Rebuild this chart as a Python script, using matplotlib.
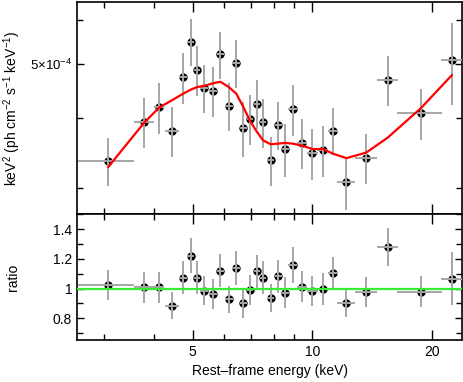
import numpy as np
import matplotlib.pyplot as plt
from matplotlib.ticker import FixedLocator, FixedFormatter, NullFormatter

plt.rcParams['font.family'] = ['Liberation Sans', 'DejaVu Sans']
plt.rcParams['mathtext.default'] = 'regular'

# spectrum bins (keV), half widths
energy = [3.07, 3.78, 4.12, 4.44, 4.74, 4.94, 5.13, 5.34, 5.61, 5.87,
          6.16, 6.43, 6.70, 6.96, 7.25, 7.51, 7.85, 8.20, 8.54, 8.91,
          9.40, 10.0, 10.61, 11.29, 12.17, 13.66, 15.45, 18.73, 22.40]
energy_err = [0.50, 0.22, 0.12, 0.19, 0.11, 0.09, 0.10, 0.12, 0.13, 0.13,
              0.14, 0.14, 0.13, 0.13, 0.14, 0.14, 0.17, 0.17, 0.17, 0.21,
              0.27, 0.30, 0.32, 0.33, 0.62, 0.86, 0.91, 2.38, 1.33]

# E^2 F(E) in units of 1e-4
flux = [3.35, 3.94, 4.19, 3.80, 4.74, 5.49, 4.89, 4.53, 4.48, 5.21,
        4.21, 5.03, 3.84, 3.99, 4.25, 3.93, 3.36, 3.89, 3.52, 4.15,
        3.61, 3.46, 3.50, 3.80, 3.07, 3.39, 4.69, 4.08, 5.08]
flux_err = [0.33, 0.40, 0.44, 0.39, 0.49, 0.53, 0.51, 0.45, 0.46, 0.51,
            0.41, 0.50, 0.43, 0.41, 0.43, 0.40, 0.34, 0.39, 0.38, 0.44,
            0.37, 0.36, 0.37, 0.37, 0.33, 0.35, 0.48, 0.43, 0.85]

model = [3.27, 3.93, 4.18, 4.31, 4.43, 4.50, 4.55, 4.57, 4.62, 4.65,
         4.55, 4.43, 4.19, 3.96, 3.78, 3.65, 3.59, 3.60, 3.61, 3.60,
         3.57, 3.52, 3.52, 3.45, 3.39, 3.47, 3.69, 4.17, 4.78]

ratio = [1.025, 1.007, 1.007, 0.883, 1.072, 1.22, 1.072, 0.985, 0.962, 1.121,
         0.929, 1.139, 0.90, 0.99, 1.115, 1.074, 0.935, 1.081, 0.973, 1.157,
         1.013, 0.985, 0.996, 1.106, 0.906, 0.978, 1.279, 0.978, 1.065]

E = np.array(energy)
Ee = np.array(energy_err)
F = np.array(flux) * 1e-4
Fe = np.array(flux_err) * 1e-4
M = np.array(model) * 1e-4
R = np.array(ratio)
Re = R * np.array(flux_err) / np.array(flux)

fig = plt.figure(figsize=(4.63, 3.82), dpi=100)
ax1 = fig.add_axes([77/463, 1 - 214/382, 385/463, 212/382])
ax2 = fig.add_axes([77/463, 1 - 340/382, 385/463, 126/382])

gray = '#a6a6a6'
for ax, y, ye in [(ax1, F, Fe), (ax2, R, Re)]:
    ax.plot(E, y, 'o', color='black', ms=5, zorder=2)
    ax.errorbar(E, y, xerr=Ee, yerr=ye, fmt='none', ecolor=gray,
                elinewidth=1.4, capsize=0, zorder=3)

ax1.plot(E, M, color='red', lw=1.6, zorder=4)
ax2.axhline(1.0, color='#33ee33', lw=1.6, zorder=4)

for ax in (ax1, ax2):
    ax.set_xscale('log')
    ax.set_xlim(2.56, 23.75)
    ax.xaxis.set_major_locator(FixedLocator([5, 10, 20]))
    ax.xaxis.set_minor_locator(FixedLocator([3, 4, 6, 7, 8, 9]))
    ax.xaxis.set_minor_formatter(NullFormatter())
    ax.tick_params(which='both', direction='in', top=True, right=True,
                   width=1, labelsize=10)
    ax.tick_params(which='major', length=7)
    ax.tick_params(which='minor', length=4)
    for s in ax.spines.values():
        s.set_linewidth(1.2)

ax1.set_yscale('log')
ax1.set_ylim(2.69e-4, 6.47e-4)
ax1.yaxis.set_major_locator(FixedLocator([5e-4]))
ax1.yaxis.set_major_formatter(FixedFormatter([r'5×10$^{-4}$']))
ax1.yaxis.set_minor_locator(FixedLocator([3e-4, 4e-4, 6e-4]))
ax1.yaxis.set_minor_formatter(NullFormatter())
ax1.tick_params(axis='x', labelbottom=False)
ax1.tick_params(axis='y', which='major', length=5, labelsize=9.5)
ax1.set_ylabel(r'keV$^2$ (ph cm$^{-2}$ s$^{-1}$ keV$^{-1}$)', fontsize=10)

ax2.set_ylim(0.654, 1.501)
ax2.yaxis.set_major_locator(FixedLocator([0.8, 1.0, 1.2, 1.4]))
ax2.yaxis.set_major_formatter(FixedFormatter(['0.8', '1', '1.2', '1.4']))
ax2.yaxis.set_minor_locator(FixedLocator([0.7, 0.9, 1.1, 1.3, 1.5]))
ax2.xaxis.set_major_formatter(FixedFormatter(['5', '10', '20']))
ax2.tick_params(axis='y', which='major', length=5)
ax2.set_xlabel('Rest–frame energy (keV)', fontsize=10)
ax2.set_ylabel('ratio', fontsize=10)

ax1.yaxis.set_label_coords(-0.14, 0.5)
ax2.yaxis.set_label_coords(-0.148, 0.5)

fig.savefig('out.png', dpi=100)
